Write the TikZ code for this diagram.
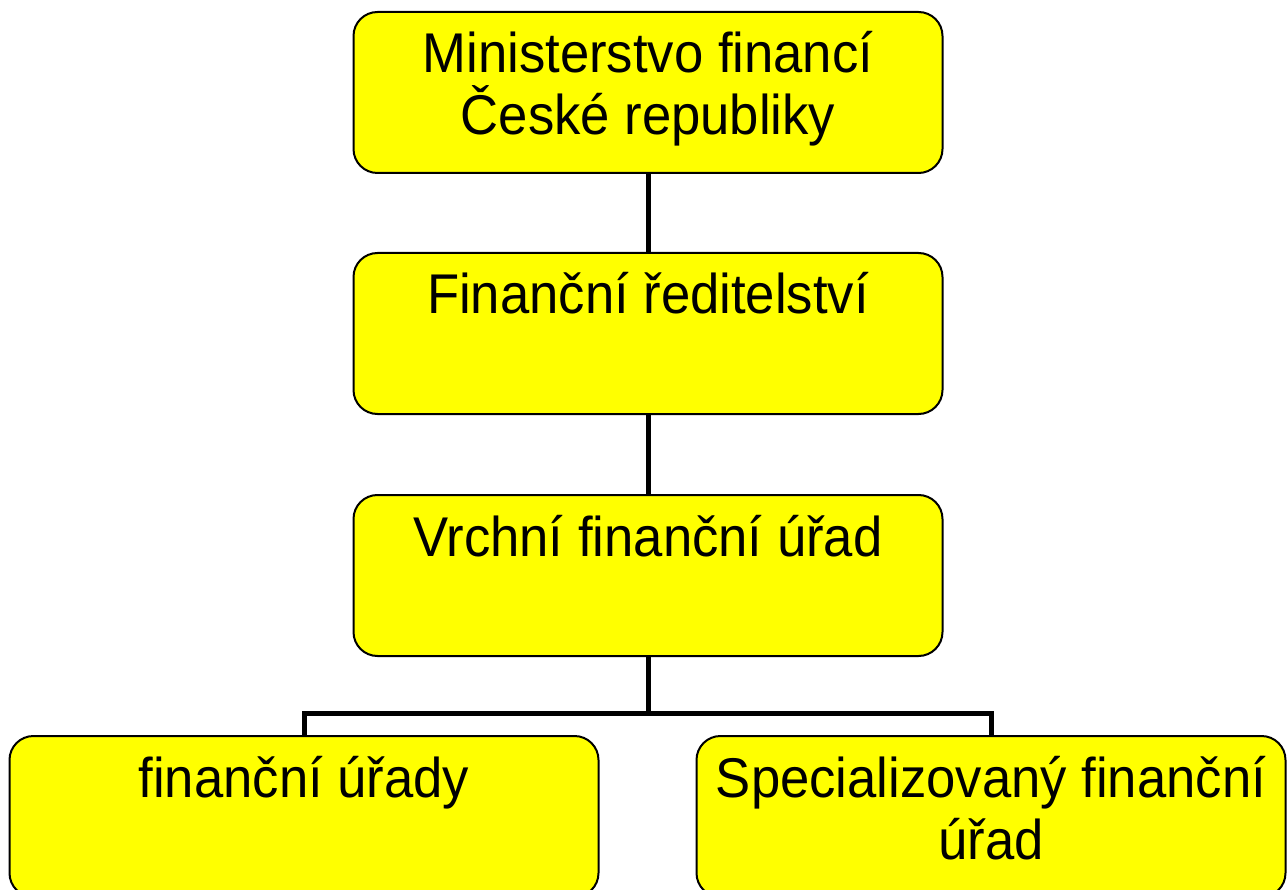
\documentclass[tikz,border=0pt]{standalone}
\usepackage{fontspec}
\setmainfont{Liberation Sans}[FakeStretch=0.94]
\usetikzlibrary{positioning,calc}
\definecolor{boxyellow}{HTML}{FFFF00}

\begin{document}
\begin{tikzpicture}[x=1pt,y=-1pt,
  unit/.style = {draw, line width=2pt, fill=boxyellow, rounded corners=24pt,
    minimum width=589pt, minimum height=161pt, inner sep=0pt, align=center,
    font=\fontsize{56}{62}\selectfont, text height=61pt, text depth=100pt},
  twoline/.style = {text height=123pt, text depth=38pt},
  link/.style = {line width=5pt},]
\useasboundingbox (0,0) rectangle (1287,890);
\node (mf) at (648,92.5)[unit,twoline] {Ministerstvo financí\\České republiky};
\node (fr) at (648,333.5)[unit] {Finanční ředitelství};
\node (vfu) at (648,575.5)[unit] {Vrchní finanční úřad};
\node (fu) at (304,816.5)[unit] {finanční úřady};
\node (sfu) at (991,816.5)[unit,twoline] {Specializovaný finanční\\úřad};
\draw[link] (mf.south)--(fr.north);
\draw[link] (fr.south)--(vfu.north);
\draw[link] (vfu.south)--++(0,56) -| (fu.north);
\draw[link] (vfu.south)--++(0,56) -| (sfu.north);
\end{tikzpicture}
\end{document}
